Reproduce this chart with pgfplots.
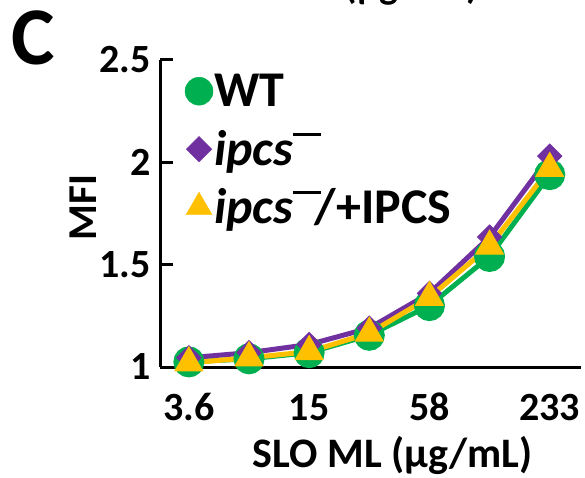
\documentclass[border=0pt]{standalone}
\usepackage{pgfplots}
\pgfplotsset{compat=1.18}
\usepackage{fontspec}
\setmainfont{Carlito}
\definecolor{wtgreen}{RGB}{0,176,80}
\definecolor{kopurple}{RGB}{112,48,160}
\definecolor{compyellow}{RGB}{255,192,0}
\newcommand{\ko}{\textit{ipcs}\raisebox{0.6em}{\rule{0.55em}{0.065em}}}
\begin{document}
\begin{tikzpicture}[x=1pt,y=1pt]
\useasboundingbox (0,0) rectangle (585,477);
% tail of the panel above
\node[anchor=base, inner sep=0, font=\fontsize{40}{40}\selectfont\bfseries] at (412,478) {(µg/mL)};
\node[anchor=base west, inner sep=0, font=\fontsize{82}{82}\selectfont\bfseries] at (11,412) {C};
\begin{axis}[
    at={(160pt,110pt)}, anchor=south west,
    scale only axis, width=421pt, height=307pt,
    axis lines=left,
    axis line style={line width=3pt, -},
    xmin=-0.48, xmax=6.52,
    ymin=1, ymax=2.5,
    xtick={0,2,4,6}, xticklabels={3.6,15,58,233},
    ytick={1,1.5,2,2.5}, yticklabels={1,1.5,2,2.5},
    tick align=inside,
    major tick length=13pt,
    tick style={line width=3pt, black},
    xtick style={draw=none},
    tick label style={font=\fontsize{40}{40}\selectfont\bfseries},
    yticklabel style={xshift=-6pt},
    xticklabel style={anchor=base, yshift=-53pt},
    xlabel={SLO ML (µg/mL)},
    ylabel={MFI},
    every axis x label/.style={at={(axis description cs:0.553,0)}, anchor=base, yshift=-100pt,
        font=\fontsize{42}{42}\selectfont\bfseries},
    every axis y label/.style={at={(axis description cs:-0.183,0.52)}, anchor=center, rotate=90,
        font=\fontsize{41}{41}\selectfont\bfseries},
    clip=false,
    legend style={at={(axis description cs:0.059,1)}, anchor=north west, yshift=-2pt,
        draw=none, fill=none, inner sep=0pt, row sep=0pt,
        font=\fontsize{50}{50}\selectfont\bfseries,
        nodes={inner sep=1pt}},
    legend cell align=left,
    legend image code/.code={
        \path[draw=none, fill=none] (0pt,-29pt) rectangle (26pt,29pt);
        \draw[mark repeat=2,mark phase=2,#1] plot coordinates {(0pt,0pt)(13pt,0pt)(26pt,0pt)};},
]
\addplot[forget plot, wtgreen, line width=5pt, mark=*, mark size=13pt] coordinates {
    (0,1.025) (1,1.04) (2,1.07) (3,1.155) (4,1.30) (5,1.54) (6,1.94)
};
\addplot[forget plot, kopurple, line width=5pt, mark=square*, mark size=8.5pt, mark options={rotate=45, line width=1pt}] coordinates {
    (0,1.045) (1,1.07) (2,1.11) (3,1.19) (4,1.36) (5,1.635) (6,2.03)
};
\addplot[forget plot, compyellow, line width=5pt, mark=triangle*, mark size=16pt, mark options={line width=1pt}] coordinates {
    (0,1.02) (1,1.045) (2,1.075) (3,1.165) (4,1.34) (5,1.59) (6,1.97)
};
\addlegendimage{only marks, wtgreen, mark=*, mark size=14pt}
\addlegendentry{WT}
\addlegendimage{only marks, kopurple, mark=square*, mark size=9pt, mark options={rotate=45}}
\addlegendentry{\ko}
\addlegendimage{only marks, compyellow, mark=triangle*, mark size=15pt}
\addlegendentry{\ko\hspace{-0.12em}/+IPCS}
\end{axis}
\end{tikzpicture}
\end{document}
